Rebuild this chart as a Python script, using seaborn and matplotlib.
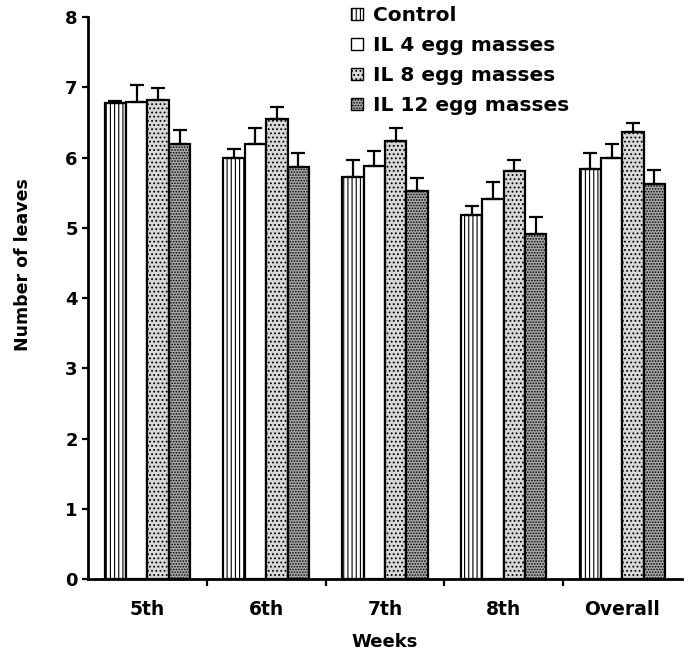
import numpy as np
import pandas as pd
import seaborn as sns
import matplotlib.pyplot as plt

# values
weeks = ['5th', '6th', '7th', '8th', 'Overall']
treatments = ['Control', 'IL 4 egg masses', 'IL 8 egg masses', 'IL 12 egg masses']
control = [6.78, 6.00, 5.72, 5.18, 5.84]
il4 = [6.79, 6.19, 5.88, 5.41, 5.99]
il8 = [6.82, 6.55, 6.23, 5.81, 6.36]
il12 = [6.20, 5.86, 5.52, 4.91, 5.62]
err_control = [0.02, 0.12, 0.24, 0.13, 0.23]
err_il4 = [0.24, 0.23, 0.21, 0.24, 0.21]
err_il8 = [0.17, 0.17, 0.19, 0.16, 0.14]
err_il12 = [0.20, 0.21, 0.19, 0.24, 0.20]

series = [control, il4, il8, il12]
errs = [err_control, err_il4, err_il8, err_il12]
df = pd.DataFrame({
    'Weeks': weeks * 4,
    'Treatment': np.repeat(treatments, len(weeks)),
    'Leaves': np.concatenate(series),
})

sns.set_theme(style='white')
plt.rcParams['font.family'] = ['DejaVu Sans']
plt.rcParams['hatch.linewidth'] = 0.8
plt.rcParams['text.color'] = 'black'
plt.rcParams['axes.labelcolor'] = 'black'
plt.rcParams['xtick.color'] = 'black'
plt.rcParams['ytick.color'] = 'black'

fig = plt.figure(figsize=(6.88, 6.51), dpi=100)
ax = fig.add_axes([0.128, 0.1106, 0.863, 0.863])

fills = ['white', 'white', '#d8d8d8', '#a8a8a8']
hatches = ['||||', '', '....', '......']

sns.barplot(data=df, x='Weeks', y='Leaves', hue='Treatment', order=weeks,
            hue_order=treatments, palette=fills, edgecolor='black',
            linewidth=1.6, width=0.72, errorbar=None, ax=ax)

bar_groups = list(ax.containers)
for i, cont in enumerate(bar_groups):
    for bar, e in zip(cont, errs[i]):
        bar.set_hatch(hatches[i])
        x = bar.get_x() + bar.get_width() / 2
        h = bar.get_height()
        ax.errorbar(x, h, yerr=[[0], [e]], color='black', capsize=5,
                    elinewidth=1.6, capthick=1.6, fmt='none')

# legend, partly above the axes top
handles = [plt.Rectangle((0, 0), 1, 1, facecolor=fills[i], hatch=hatches[i],
                         edgecolor='black', linewidth=1) for i in range(4)]
ax.legend(handles, treatments, loc='upper left', bbox_to_anchor=(0.505, 0.997),
          bbox_transform=fig.transFigure, frameon=False, borderaxespad=0,
          borderpad=0.2, handlelength=0.55, handleheight=0.55,
          handletextpad=0.5, labelspacing=0.55,
          prop={'weight': 'bold', 'size': 14.5})

ax.set_ylim(0, 8)
ax.set_xlim(-0.5, 4.5)
ax.set_yticks(range(9))
ax.set_xticks(np.arange(0.5, 4, 1), minor=True)
ax.tick_params(axis='x', which='major', length=0, pad=15, labelsize=13.5)
ax.tick_params(axis='x', which='minor', length=5, width=1.6, direction='out', bottom=True)
ax.tick_params(axis='y', length=4, width=1.6, direction='out', left=True, labelsize=13)
for lab in ax.get_xticklabels() + ax.get_yticklabels():
    lab.set_fontweight('bold')

sns.despine(ax=ax)
for s in ['left', 'bottom']:
    ax.spines[s].set_linewidth(2)
    ax.spines[s].set_color('black')

ax.set_xlabel('Weeks', fontsize=13, fontweight='bold', labelpad=10)
ax.set_ylabel('Number of leaves', fontsize=12.5, fontweight='bold')
ax.yaxis.set_label_coords(-0.094, 0.56)

fig.savefig('out.png', dpi=100)
